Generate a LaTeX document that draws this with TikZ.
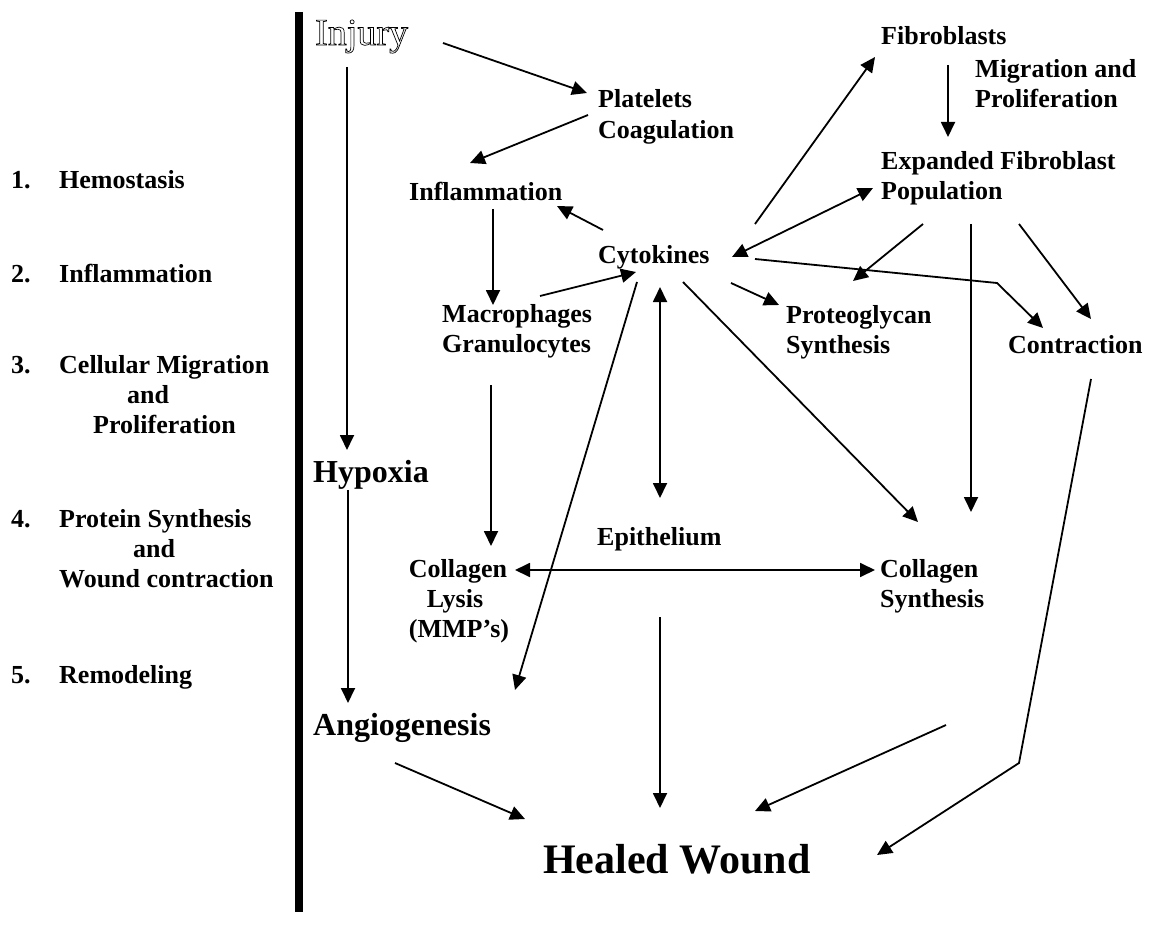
\documentclass[tikz,border=0pt]{standalone}
\usepackage{fontspec}
\setmainfont{Liberation Serif}
\usetikzlibrary{arrows.meta}
\newcommand{\outlinetext}[1]{\special{pdf:literal direct 1 Tr 0.7 w}#1\special{pdf:literal direct 0 Tr}}
\tikzset{
  lbl/.style={font=\bfseries\fontsize{26}{30}\selectfont, inner sep=0pt, anchor=base west},
  big/.style={font=\bfseries\fontsize{32}{36}\selectfont, inner sep=0pt, anchor=base west},
  arr/.style={-{Triangle[length=15pt,width=14pt]}, line width=1.8pt},
  darr/.style={{Triangle[length=15pt,width=14pt]}-{Triangle[length=15pt,width=14pt]}, line width=1.8pt}
}
\begin{document}
\begin{tikzpicture}[x=1pt,y=-1pt]
\useasboundingbox (0,0) rectangle (1153,941);
\fill[white] (0,0) rectangle (1153,941);
% vertical bar
\coordinate (bartop) at (299,12);
\coordinate (barbot) at (299,912);
\draw[line width=8pt] (bartop) -- (barbot);
% left list
\node[lbl] (n1) at (11,189) {1.};
\node[lbl] (s1) at (59,189) {Hemostasis};
\node[lbl] (n2) at (11,282) {2.};
\node[lbl] (s2) at (59,282) {Inflammation};
\node[lbl] (n3) at (11,373) {3.};
\node[lbl] (s3) at (59,373) {Cellular Migration};
\node[lbl] (s3b) at (127,403) {and};
\node[lbl] (s3c) at (93,433) {Proliferation};
\node[lbl] (n4) at (11,527) {4.};
\node[lbl] (s4) at (59,527) {Protein Synthesis};
\node[lbl] (s4b) at (133,557) {and};
\node[lbl] (s4c) at (59,587) {Wound contraction};
\node[lbl] (n5) at (11,683) {5.};
\node[lbl] (s5) at (59,683) {Remodeling};
% diagram nodes
\node[inner sep=0pt, anchor=base west, font=\fontsize{38}{42}\selectfont] (injury) at (315,45) {\outlinetext{Injury}};
\node[lbl] (plat) at (598,108) {Platelets};
\node[lbl] (coag) at (598,139) {Coagulation};
\node[lbl] (infl) at (409,201) {Inflammation};
\node[lbl] (cyto) at (598,263) {Cytokines};
\node[lbl] (macro) at (442,322) {Macrophages};
\node[lbl] (gran) at (442,352) {Granulocytes};
\node[lbl] (fib) at (881,45) {Fibroblasts};
\node[lbl] (mig) at (975,78) {Migration and};
\node[lbl] (prol) at (975,108) {Proliferation};
\node[lbl] (exp) at (881,170) {Expanded Fibroblast};
\node[lbl] (pop) at (881,200) {Population};
\node[lbl] (proteo) at (786,323) {Proteoglycan};
\node[lbl] (proteo2) at (786,353) {Synthesis};
\node[lbl] (contr) at (1008,353) {Contraction};
\node[big] (hyp) at (313,482) {Hypoxia};
\node[lbl] (epi) at (597,545) {Epithelium};
\node[lbl, anchor=base] (coll) at (458,577) {Collagen};
\node[lbl, anchor=base] (lysis) at (455,607) {Lysis};
\node[lbl, anchor=base] (mmp) at (459,637) {(MMP’s)};
\node[lbl] (cols) at (880,577) {Collagen};
\node[lbl] (cols2) at (880,607) {Synthesis};
\node[big] (angio) at (313,735) {Angiogenesis};
\node[font=\bfseries\fontsize{42}{46}\selectfont, inner sep=0pt, anchor=base west] (healed) at (543,873) {Healed Wound};
% arrow end points
\coordinate (a1s) at (443,43);  \coordinate (a1e) at (587,93);
\coordinate (a2s) at (588,115); \coordinate (a2e) at (470,163);
\coordinate (a3s) at (347,67);  \coordinate (a3e) at (347,450);
\coordinate (a4s) at (493,209); \coordinate (a4e) at (493,305);
\coordinate (a5s) at (603,230); \coordinate (a5e) at (557,206);
\coordinate (a6s) at (540,296); \coordinate (a6e) at (636,272);
\coordinate (a7s) at (637,282); \coordinate (a7e) at (515,690);
\coordinate (a8s) at (660,287); \coordinate (a8e) at (660,498);
\coordinate (a9s) at (683,282); \coordinate (a9e) at (918,522);
\coordinate (a10s) at (731,283); \coordinate (a10e) at (779,305);
\coordinate (a11s) at (755,259); \coordinate (a11m) at (997,283); \coordinate (a11e) at (1043,328);
\coordinate (a12s) at (732,257); \coordinate (a12e) at (873,188);
\coordinate (a13s) at (755,224); \coordinate (a13e) at (875,57);
\coordinate (a14s) at (948,65); \coordinate (a14e) at (948,137);
\coordinate (a15s) at (923,224); \coordinate (a15e) at (853,281);
\coordinate (a16s) at (971,224); \coordinate (a16e) at (971,512);
\coordinate (a17s) at (1019,224); \coordinate (a17e) at (1091,319);
\coordinate (a18s) at (1091,379); \coordinate (a18m) at (1019,763); \coordinate (a18e) at (877,855);
\coordinate (a19s) at (515,570); \coordinate (a19e) at (875,570);
\coordinate (a20s) at (491,385); \coordinate (a20e) at (491,546);
\coordinate (a21s) at (348,490); \coordinate (a21e) at (348,703);
\coordinate (a22s) at (660,617); \coordinate (a22e) at (660,808);
\coordinate (a23s) at (395,763); \coordinate (a23e) at (525,819);
\coordinate (a24s) at (946,725); \coordinate (a24e) at (755,811);
% arrows
\draw[arr] (a1s) -- (a1e);
\draw[arr] (a2s) -- (a2e);
\draw[arr] (a3s) -- (a3e);
\draw[arr] (a4s) -- (a4e);
\draw[arr] (a5s) -- (a5e);
\draw[arr] (a6s) -- (a6e);
\draw[arr] (a7s) -- (a7e);
\draw[darr] (a8s) -- (a8e);
\draw[arr] (a9s) -- (a9e);
\draw[arr] (a10s) -- (a10e);
\draw[arr] (a11s) -- (a11m) -- (a11e);
\draw[darr] (a12s) -- (a12e);
\draw[arr] (a13s) -- (a13e);
\draw[arr] (a14s) -- (a14e);
\draw[arr] (a15s) -- (a15e);
\draw[arr] (a16s) -- (a16e);
\draw[arr] (a17s) -- (a17e);
\draw[arr] (a18s) -- (a18m) -- (a18e);
\draw[darr] (a19s) -- (a19e);
\draw[arr] (a20s) -- (a20e);
\draw[arr] (a21s) -- (a21e);
\draw[arr] (a22s) -- (a22e);
\draw[arr] (a23s) -- (a23e);
\draw[arr] (a24s) -- (a24e);
\end{tikzpicture}
\end{document}
